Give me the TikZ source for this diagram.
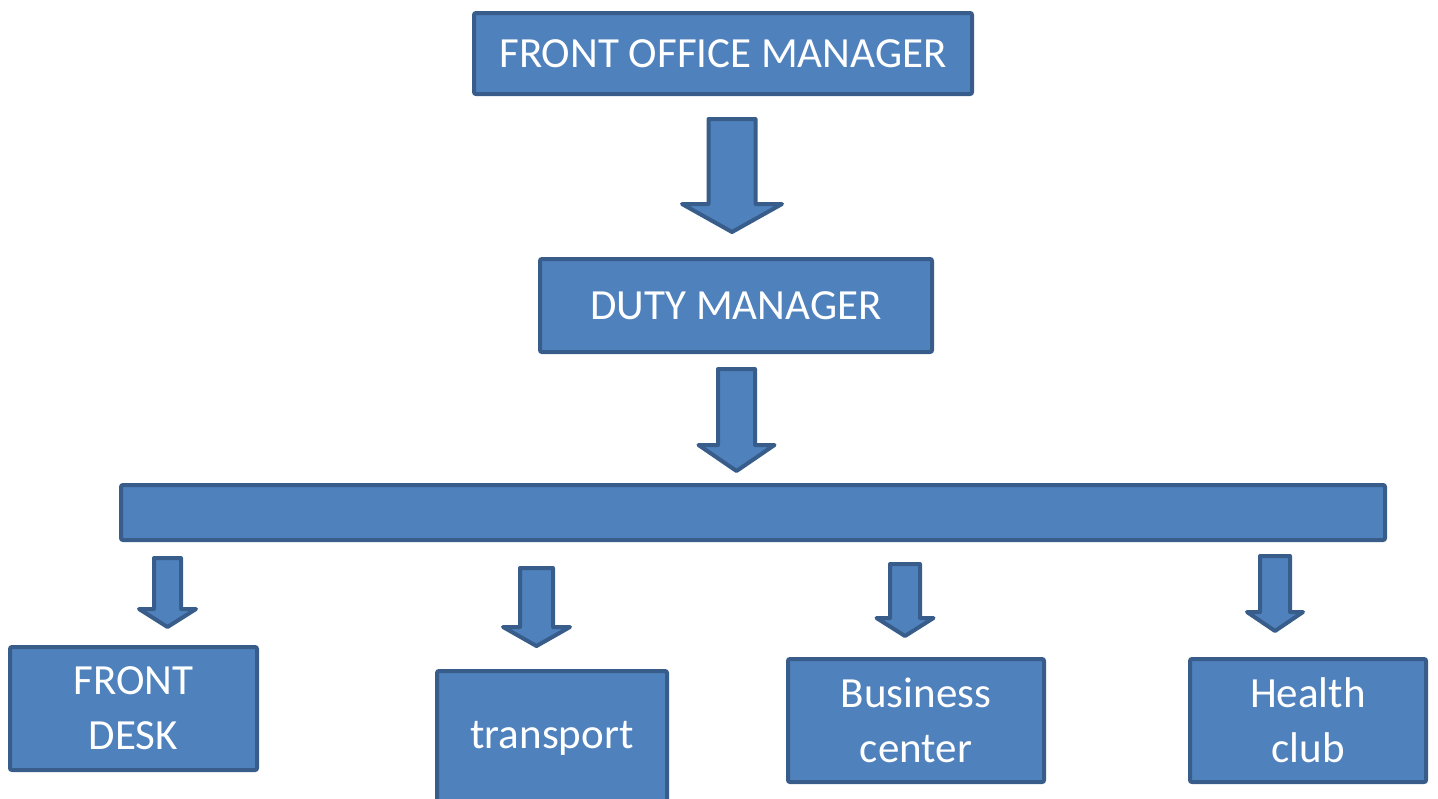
\documentclass[tikz,border=0pt]{standalone}
\usepackage{fontspec}
\setmainfont{Carlito}
\usepackage{tikz}

\definecolor{boxfill}{HTML}{4F81BD}
\definecolor{boxline}{HTML}{385D8A}

\begin{document}
\begin{tikzpicture}[x=0.5pt, y=-0.5pt,
        unitbox/.style={draw=boxline, fill=boxfill, line width=2pt, rounded corners=1pt,
                      text=white, inner sep=0pt, align=center,
                      font=\fontsize{21.5}{27.5}\selectfont},
        blockarr/.style={draw=boxline, fill=boxfill, line width=2pt, line join=round},
      ]
        \useasboundingbox (0,0) rectangle (1438,798);

        \node[unitbox, minimum width=249pt, minimum height=40.5pt] (fom) at (723,53.5) {FRONT OFFICE MANAGER};
        \node[unitbox, minimum width=196pt, minimum height=46.5pt] (duty) at (736,305.5) {DUTY MANAGER};
        \node[unitbox, minimum width=632pt, minimum height=27.5pt] (bar) at (753,512.5) {};

        \node[unitbox, minimum width=123.5pt, minimum height=61.5pt] (desk) at (133.5,708.5) {FRONT\\DESK};
        \node[unitbox, minimum width=115pt, minimum height=67pt] (trans) at (552,738) {transport};
        \node[unitbox, minimum width=128pt, minimum height=61.5pt] (busc) at (916,720.5) {Business\\center};
        \node[unitbox, minimum width=118pt, minimum height=61.5pt] (health) at (1308,720.5) {Health\\club};

        % block arrows: centre x / shaft top / shaft half width / head base / head half width / tip
        \foreach \x/\yt/\sw/\yb/\hw/\yp in {732/119/23.5/204/50/232, 736.5/369/18.5/445/38/471,
                167.5/558/13.5/609/28.5/627, 536.5/568/16.5/627/33.5/646,
                905/564/15/618/28.5/636, 1275/556/15/612/28/631}
          \draw[blockarr] (\x-\sw,\yt) -- (\x+\sw,\yt) -- (\x+\sw,\yb) -- (\x+\hw,\yb)
              -- (\x,\yp) -- (\x-\hw,\yb) -- (\x-\sw,\yb) -- cycle;
      \end{tikzpicture}
\end{document}
